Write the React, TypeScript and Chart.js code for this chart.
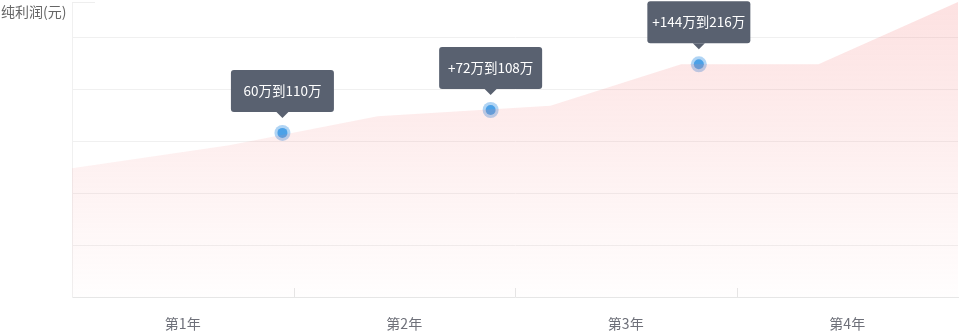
import React, { useEffect, useRef } from "react";
import { Chart, registerables } from "chart.js";

Chart.register(...registerables);

const categories = ["第1年", "第2年", "第3年", "第4年"];
// area outline: position along the years (0..4) and profit value
const areaX = [0, 0.71, 1.38, 2.16, 2.75, 3.37, 4];
const areaY = [124, 146, 174, 184, 224, 224, 284];
// highlighted points
const pointX = [0.95, 1.89, 2.83];
const pointY = [158, 180, 224];
const pointLabels = ["60万到110万", "+72万到108万", "+144万到216万"];
const yAxisName = "纯利润(元)";
const yMax = 284;
const yStep = 50;

const FONT = '"Noto Sans CJK SC", "Noto Sans", sans-serif';

const overlayPlugin = {
  id: "overlay",
  beforeDatasetsDraw(chart: any) {
    const ctx = chart.ctx;
    const xs = chart.scales.x;
    const area = chart.chartArea;
    ctx.save();
    ctx.strokeStyle = "#e6e6e6";
    ctx.lineWidth = 1;
    for (let i = 1; i < categories.length; i++) {
      const px = Math.round(xs.getPixelForValue(i - 0.5)) + 0.5;
      ctx.beginPath();
      ctx.moveTo(px, area.bottom - 9);
      ctx.lineTo(px, area.bottom);
      ctx.stroke();
    }
    // short top mark
    ctx.strokeStyle = "#eeeeee";
    ctx.beginPath();
    ctx.moveTo(area.left, area.top + 0.5);
    ctx.lineTo(area.left + 23, area.top + 0.5);
    ctx.stroke();
    // y axis name
    ctx.fillStyle = "#666666";
    ctx.font = "14px " + FONT;
    ctx.textAlign = "left";
    ctx.textBaseline = "middle";
    ctx.fillText(yAxisName, 1, 12);
    ctx.restore();
  },
  afterDatasetsDraw(chart: any) {
    const ctx = chart.ctx;
    const meta = chart.getDatasetMeta(2);
    ctx.save();
    meta.data.forEach((el: any, i: number) => {
      const x = el.x;
      const y = el.y;
      const w = 103;
      const h = 42;
      const bottom = y - 21;
      const top = bottom - h;
      const left = x - w / 2;
      ctx.fillStyle = "#596170";
      ctx.beginPath();
      ctx.roundRect(left, top, w, h, 3);
      ctx.fill();
      ctx.beginPath();
      ctx.moveTo(x - 6, bottom);
      ctx.lineTo(x + 6, bottom);
      ctx.lineTo(x, bottom + 6);
      ctx.closePath();
      ctx.fill();
      ctx.fillStyle = "#ffffff";
      ctx.font = "13.5px " + FONT;
      ctx.textAlign = "center";
      ctx.textBaseline = "middle";
      ctx.fillText(pointLabels[i], x, top + h / 2);
    });
    ctx.restore();
  },
};

export default function App() {
  const ref = useRef<HTMLCanvasElement | null>(null);

  useEffect(() => {
    document.body.style.margin = "0";
    const canvas = ref.current;
    if (!canvas) return;
    Chart.defaults.font.family = FONT;
    const areaData = areaX.map((x, i) => ({ x, y: areaY[i] }));
    const ptData = pointX.map((x, i) => ({ x, y: pointY[i] }));
    const chart = new Chart(canvas, {
      type: "line",
      data: {
        labels: categories,
        datasets: [
          {
            data: areaData,
            xAxisID: "xv",
            yAxisID: "y",
            borderWidth: 0,
            pointRadius: 0,
            tension: 0,
            fill: "origin",
            backgroundColor: (c: any) => {
              const a = c.chart.chartArea;
              if (!a) return "rgba(242,120,120,0.15)";
              const g = c.chart.ctx.createLinearGradient(0, a.top, 0, a.bottom);
              g.addColorStop(0, "rgba(245,130,130,0.24)");
              g.addColorStop(1, "rgba(245,130,130,0.01)");
              return g;
            },
          } as any,
          {
            data: ptData,
            xAxisID: "xv",
            yAxisID: "y",
            showLine: false,
            pointRadius: 8,
            pointBorderWidth: 0,
            pointBackgroundColor: "rgba(80,160,230,0.45)",
          } as any,
          {
            data: ptData,
            xAxisID: "xv",
            yAxisID: "y",
            showLine: false,
            pointRadius: 5,
            pointBorderWidth: 0,
            pointBackgroundColor: "#4aa3e8",
          } as any,
        ],
      },
      options: {
        responsive: false,
        animation: false,
        devicePixelRatio: 1,
        layout: { autoPadding: false, padding: { left: 0, top: 2, right: 1, bottom: 0 } },
        plugins: { legend: { display: false }, tooltip: { enabled: false } },
        scales: {
          x: {
            type: "category",
            offset: true,
            grid: { display: true, color: "rgba(0,0,0,0)", drawTicks: false, offset: true },
            border: { display: true, color: "#e6e6e6" },
            ticks: { color: "#6e7079", padding: 18, font: { size: 14, family: FONT } },
            afterFit: (s: any) => {
              s.height = 34;
            },
          },
          xv: {
            type: "linear",
            display: false,
            min: 0,
            max: 4,
          },
          y: {
            type: "linear",
            min: 0,
            max: yMax,
            ticks: { display: false, stepSize: yStep },
            grid: {
              drawTicks: false,
              color: (c: any) => (c.tick && c.tick.value >= yMax ? "rgba(0,0,0,0)" : "#f0f0f0"),
            },
            border: { display: true, color: "#f0f0f0" },
            afterFit: (s: any) => {
              s.width = 72;
            },
          },
        },
      } as any,
      plugins: [overlayPlugin],
    });
    return () => chart.destroy();
  }, []);

  return (
    <div style={{ width: 959, height: 331 }}>
      <canvas ref={ref} width={959} height={331} />
    </div>
  );
}
